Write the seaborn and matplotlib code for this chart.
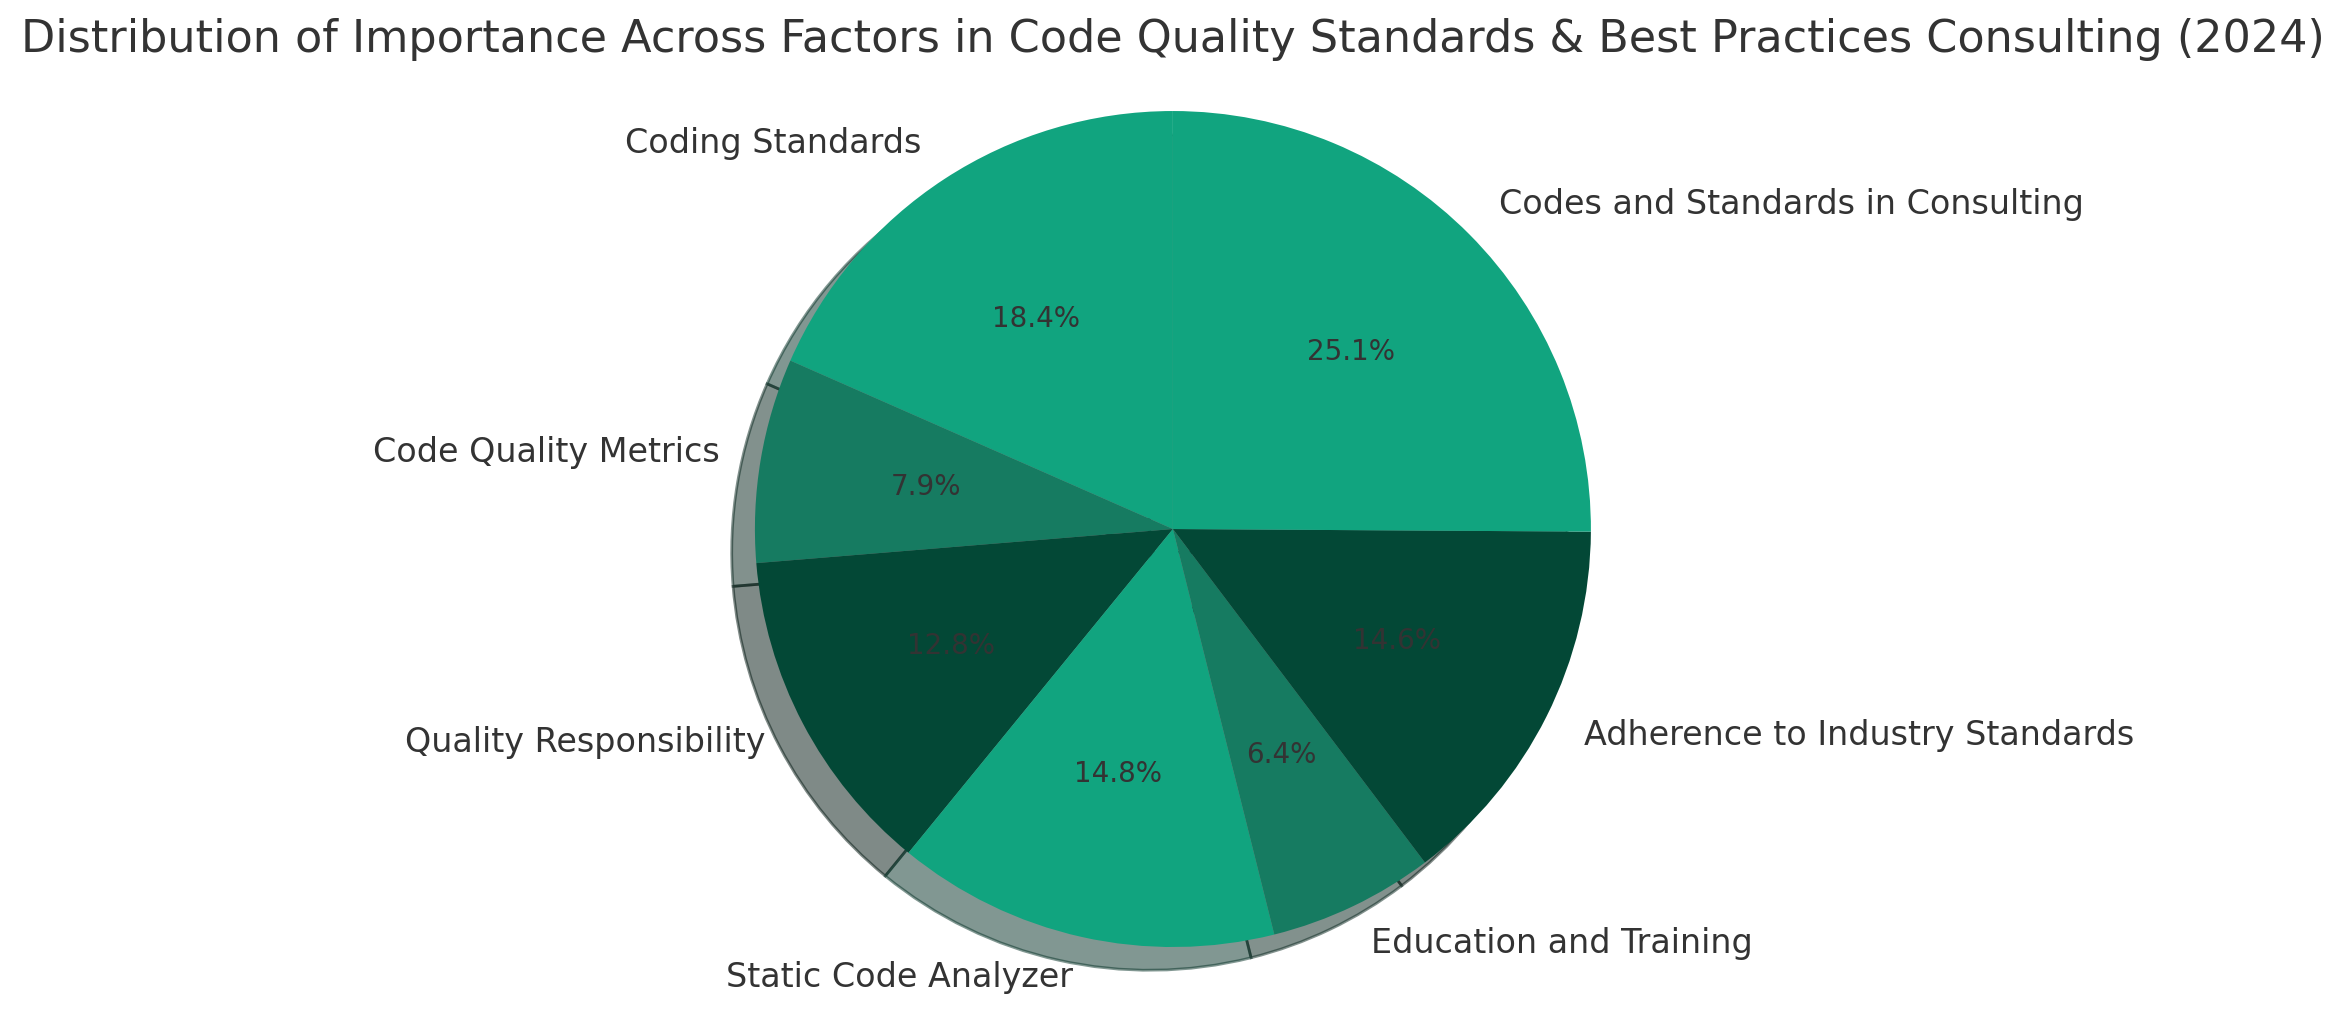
import matplotlib
matplotlib.use("Agg")
import matplotlib.pyplot as plt
import seaborn as sns

factors = [
    "Coding Standards",
    "Code Quality Metrics",
    "Quality Responsibility",
    "Static Code Analyzer",
    "Education and Training",
    "Adherence to Industry Standards",
    "Codes and Standards in Consulting",
]
importance = [18.4, 7.9, 12.8, 14.8, 6.4, 14.6, 25.1]
wedge_colors = ["#11a47f", "#167b61", "#034836", "#11a47f", "#167b61", "#034836", "#11a47f"]

sns.set_theme(style="white")
text_color = "0.2"

fig = plt.figure(figsize=(11.715, 5.075), dpi=200)
# pie axes sized so the pie fills the frame like the reference
ax = fig.add_axes([0.2776, -0.036, 0.446, 1.0296])

# no wedge outline, but keep a linewidth so the shadow pieces get their dark rims
ax.pie(
    importance,
    labels=factors,
    colors=wedge_colors,
    autopct="%1.1f%%",
    startangle=90,
    shadow=True,
    wedgeprops={"linewidth": 1.0, "edgecolor": "none"},
    textprops={"fontsize": 12, "color": text_color},
)
for t in ax.texts:
    if t.get_text().endswith("%"):
        t.set_fontsize(10)
ax.set_aspect("equal")

fig.text(
    0.5005, 1 - 18 / 1015,
    "Distribution of Importance Across Factors in Code Quality Standards & Best Practices Consulting (2024)",
    ha="center", va="top", fontsize=16, color=text_color,
)

fig.savefig("out.png", dpi=200)
plt.close(fig)
